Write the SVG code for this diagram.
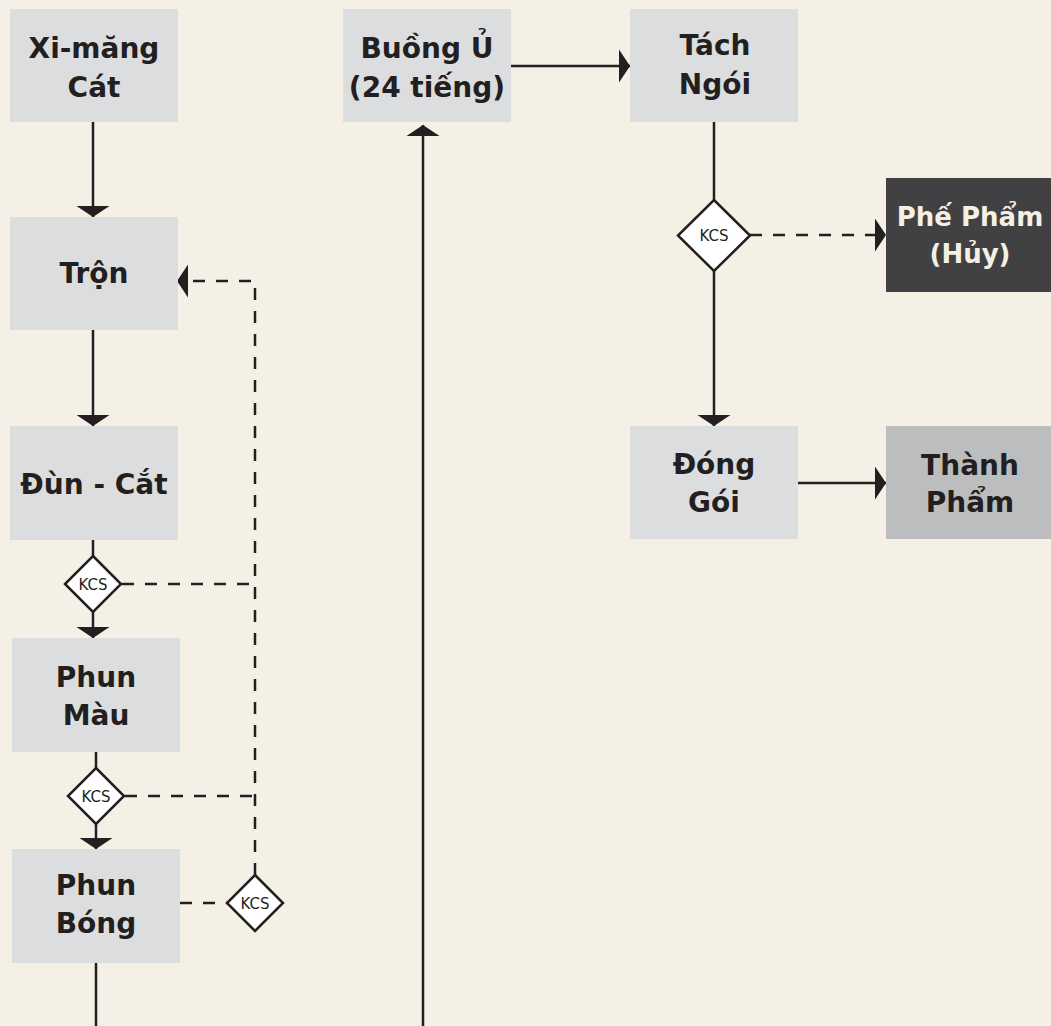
<svg xmlns="http://www.w3.org/2000/svg" width="1051" height="1026" viewBox="0 0 1051 1026">
  <defs>
    <style>
      .bg { fill: #f4f0e6; }
      .box { fill: #dcdddf; }
      .dark { fill: #414042; }
      .mid { fill: #bcbdbf; }
      .lbl { font-family: "DejaVu Sans", "Liberation Sans", sans-serif; font-weight: bold; font-size: 28px; fill: #231f20; text-anchor: middle; }
      .lbl-s { font-size: 26px; fill: #f4f0e6; }
      .kcs { font-family: "DejaVu Sans", "Liberation Sans", sans-serif; font-size: 15px; fill: #231f20; text-anchor: middle; }
      .dia { fill: #ffffff; stroke: #231f20; stroke-width: 2.5; }
      .ln { fill: none; stroke: #231f20; stroke-width: 2.5; }
      .dash { fill: none; stroke: #231f20; stroke-width: 2.5; stroke-dasharray: 12 11; }
    </style>
    <marker id="ah" markerUnits="userSpaceOnUse" markerWidth="11" markerHeight="34" refX="11" refY="17" orient="auto" viewBox="0 0 11 34">
      <path d="M0,0.5 L11,17 L0,33.5 Z" fill="#231f20"/>
    </marker>
  </defs>
  <rect class="bg" x="0" y="0" width="1051" height="1026"/>

  <g id="connectors">
    <path class="ln" d="M93,122 V217" marker-end="url(#ah)"/>
    <path class="ln" d="M93,330 V426" marker-end="url(#ah)"/>
    <path class="ln" d="M93,540 V557"/>
    <path class="ln" d="M93,612 V638" marker-end="url(#ah)"/>
    <path class="ln" d="M96,752 V768"/>
    <path class="ln" d="M96,824 V849" marker-end="url(#ah)"/>
    <path class="ln" d="M96,963 V1026"/>
    <path class="ln" d="M423,1026 V125" marker-end="url(#ah)"/>
    <path class="ln" d="M511,66 H630" marker-end="url(#ah)"/>
    <path class="ln" d="M714,122 V200"/>
    <path class="ln" d="M714,271 V426" marker-end="url(#ah)"/>
    <path class="ln" d="M798,483 H886" marker-end="url(#ah)"/>
    <path class="dash" d="M255,875 V281 H177" marker-end="url(#ah)"/>
    <path class="dash" d="M122,584 H255"/>
    <path class="dash" d="M125,796 H255"/>
    <path class="dash" d="M180,903 H227"/>
    <path class="dash" d="M750,235 H886" marker-end="url(#ah)"/>
  </g>

  <g id="xi-mang-cat">
    <rect class="box" x="10" y="9" width="168" height="113"/>
    <text class="lbl" x="94" y="58">Xi-măng</text>
    <text class="lbl" x="94" y="97">Cát</text>
  </g>
  <g id="tron">
    <rect class="box" x="10" y="217" width="168" height="113"/>
    <text class="lbl" x="94" y="283">Trộn</text>
  </g>
  <g id="dun-cat">
    <rect class="box" x="10" y="426" width="168" height="114"/>
    <text class="lbl" x="94" y="494">Đùn - Cắt</text>
  </g>
  <g id="kcs-1">
    <polygon class="dia" points="93,556 121,584 93,612 65,584"/>
    <text class="kcs" x="93" y="589.5">KCS</text>
  </g>
  <g id="phun-mau">
    <rect class="box" x="12" y="638" width="168" height="114"/>
    <text class="lbl" x="96" y="687">Phun</text>
    <text class="lbl" x="96" y="725">Màu</text>
  </g>
  <g id="kcs-2">
    <polygon class="dia" points="96,768 124,796 96,824 68,796"/>
    <text class="kcs" x="96" y="801.5">KCS</text>
  </g>
  <g id="phun-bong">
    <rect class="box" x="12" y="849" width="168" height="114"/>
    <text class="lbl" x="96" y="895">Phun</text>
    <text class="lbl" x="96" y="933">Bóng</text>
  </g>
  <g id="kcs-3">
    <polygon class="dia" points="255,875 283,903 255,931 227,903"/>
    <text class="kcs" x="255" y="908.5">KCS</text>
  </g>
  <g id="buong-u">
    <rect class="box" x="343" y="9" width="168" height="113"/>
    <text class="lbl" x="427" y="58">Buồng Ủ</text>
    <text class="lbl" x="427" y="97">(24 tiếng)</text>
  </g>
  <g id="tach-ngoi">
    <rect class="box" x="630" y="9" width="168" height="113"/>
    <text class="lbl" x="715" y="55">Tách</text>
    <text class="lbl" x="715" y="94">Ngói</text>
  </g>
  <g id="kcs-4">
    <polygon class="dia" points="714,200 750,235.5 714,271 678,235.5"/>
    <text class="kcs" x="714" y="241">KCS</text>
  </g>
  <g id="phe-pham">
    <rect class="dark" x="886" y="178" width="168" height="114"/>
    <text class="lbl lbl-s" x="970" y="226">Phế Phẩm</text>
    <text class="lbl lbl-s" x="970" y="263">(Hủy)</text>
  </g>
  <g id="dong-goi">
    <rect class="box" x="630" y="426" width="168" height="113"/>
    <text class="lbl" x="714" y="474">Đóng</text>
    <text class="lbl" x="714" y="512">Gói</text>
  </g>
  <g id="thanh-pham">
    <rect class="mid" x="886" y="426" width="168" height="113"/>
    <text class="lbl" x="970" y="475">Thành</text>
    <text class="lbl" x="970" y="512">Phẩm</text>
  </g>
</svg>
